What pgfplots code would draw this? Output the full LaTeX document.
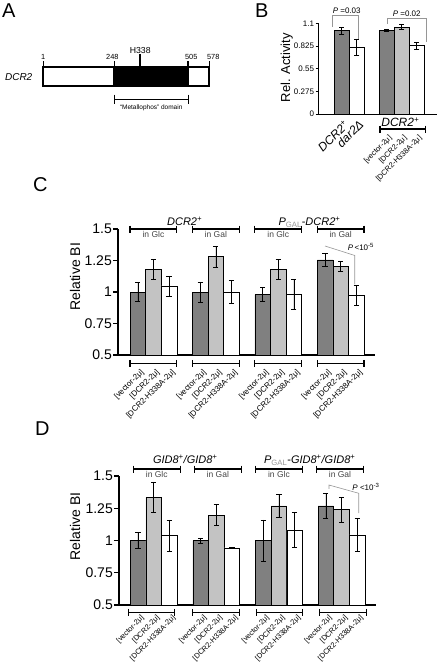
\documentclass[border=0pt]{standalone}
\usepackage{pgfplots}
\pgfplotsset{compat=1.18}
\usepackage{fontspec}
\setmainfont{Liberation Sans}
\definecolor{dgray}{RGB}{128,128,128}
\definecolor{lgray}{RGB}{195,195,195}
\definecolor{agray}{RGB}{150,150,150}
\definecolor{tgray}{RGB}{70,70,70}
\newcommand{\fs}[1]{\fontsize{#1}{#1}\selectfont}
\pgfplotsset{
  mybar/.style={draw=black, line width=0.5pt, bar shift=0pt,
    error bars/y dir=both, error bars/y explicit,
    error bars/error bar style={black, line width=0.6pt},
    error bars/error mark options={rotate=90, black, mark size=2.6pt, line width=0.6pt}},
  bigpanel/.style={scale only axis, anchor=south west, width=257pt,
    ymin=0.5, ymax=1.5, xmin=-1.21, xmax=15.2,
    ybar, bar width=15.6pt, clip mode=individual,
    axis x line*=bottom, axis y line*=left,
    axis line style={line width=1.1pt, black},
    xtick=\empty, ytick={0.5,0.75,1,1.25,1.5},
    tick align=outside, major tick length=5pt,
    tick style={line width=1.1pt, black},
    /pgf/number format/assume math mode=true,
    yticklabel style={font=\fs{14}, inner sep=1pt},
    ylabel={Relative BI}, ylabel style={font=\fs{14}, anchor=center}},
}
% group bracket
\newcommand{\gbr}[4]{\draw[line width=1.4pt] ([yshift=#4]axis cs:#1,#3) -- ([yshift=#4]axis cs:#2,#3);
  \draw[line width=1.2pt] ([yshift=#4+3.5pt]axis cs:#1,#3) -- ([yshift=#4-3.5pt]axis cs:#1,#3);
  \draw[line width=1.2pt] ([yshift=#4+3.5pt]axis cs:#2,#3) -- ([yshift=#4-3.5pt]axis cs:#2,#3);}
\newcommand{\rotlab}[3]{\node[rotate=45, anchor=east, font=\fs{8}, inner sep=0] at ([xshift=5pt,yshift=#3]axis cs:#1,0.5) {#2};}
\newcommand{\rotlabD}[3]{\node[rotate=45, anchor=east, font=\fs{7.4}, inner sep=0] at ([xshift=5pt,yshift=#3]axis cs:#1,0.5) {#2};}
\begin{document}
\begin{tikzpicture}
\useasboundingbox (0pt,0pt) rectangle (438pt,-666pt);
% panel letters
\node[anchor=north west, inner sep=0, font=\fs{20}] at (2pt,-3.5pt) {A};
\node[anchor=north west, inner sep=0, font=\fs{20}] at (255pt,-3.5pt) {B};
\node[anchor=north west, inner sep=0, font=\fs{20}] at (33pt,-177pt) {C};
\node[anchor=north west, inner sep=0, font=\fs{20}] at (35pt,-421.7pt) {D};

% ---------------- Panel A ----------------
\node[font=\fs{10}\itshape] at (18.7pt,-76.7pt) {DCR2};
\begin{axis}[at={(43.3pt,-85.7pt)}, anchor=south west, scale only axis,
  width=166pt, height=19pt, xmin=1, xmax=578, ymin=-0.5, ymax=0.5,
  hide axis, xbar stacked, bar width=19pt, clip=false]
\addplot[fill=white, draw=black, line width=2pt] coordinates {(248,0)};
\addplot[fill=black, draw=black, line width=2pt] coordinates {(257,0)};
\addplot[fill=white, draw=black, line width=2pt] coordinates {(73,0)};
\draw[line width=1.6pt] (axis cs:1,0.5) -- ([yshift=5.5pt]axis cs:1,0.5);
\draw[line width=1.6pt] (axis cs:248,0.5) -- ([yshift=5.5pt]axis cs:248,0.5);
\draw[line width=1.6pt] (axis cs:505,0.5) -- ([yshift=5.5pt]axis cs:505,0.5);
\draw[line width=1.6pt] (axis cs:578,0.5) -- ([yshift=5.5pt]axis cs:578,0.5);
\draw[line width=1.6pt] (axis cs:338,0.5) -- ([yshift=12.4pt]axis cs:338,0.5);
\node[anchor=south, inner sep=0.5pt, font=\fs{7.4}] at ([yshift=6pt]axis cs:1,0.5) {1};
\node[anchor=south, inner sep=0.5pt, font=\fs{7.4}] at ([xshift=-2pt,yshift=6pt]axis cs:248,0.5) {248};
\node[anchor=south, inner sep=0.5pt, font=\fs{7.4}] at ([xshift=3pt,yshift=6pt]axis cs:505,0.5) {505};
\node[anchor=south, inner sep=0.5pt, font=\fs{7.4}] at ([xshift=4pt,yshift=6pt]axis cs:578,0.5) {578};
\node[anchor=south, inner sep=0.5pt, font=\fs{8.7}] at ([yshift=12.6pt]axis cs:338,0.5) {H338};
\draw[line width=1.2pt] ([yshift=-13.6pt]axis cs:248,-0.5) -- ([yshift=-13.6pt]axis cs:505,-0.5);
\draw[line width=1.2pt] ([yshift=-9pt]axis cs:248,-0.5) -- ([yshift=-18pt]axis cs:248,-0.5);
\draw[line width=1.2pt] ([yshift=-9pt]axis cs:505,-0.5) -- ([yshift=-18pt]axis cs:505,-0.5);
\node[font=\fs{6.5}] at ([yshift=-22.6pt]axis cs:376,-0.5) {``Metallophos'' domain};
\end{axis}

% ---------------- Panel B ----------------
\begin{axis}[at={(318.7pt,-114pt)}, anchor=south west, scale only axis,
  width=118pt, height=90.7pt, xmin=-1.54, xmax=6.33, ymin=0, ymax=1.1,
  ybar, bar width=15pt, clip mode=individual,
  axis x line*=bottom, axis y line*=left,
  axis line style={line width=0.8pt, black},
  xtick=\empty, ytick={0,0.275,0.55,0.825,1.1},
  yticklabels={0,0.275,0.55,0.825,1.1},
  tick align=outside, major tick length=3pt, tick style={line width=0.8pt, black},
  yticklabel style={font=\fs{8}, inner sep=1.5pt},
  ylabel={Rel. Activity}, ylabel style={font=\fs{13}, anchor=center, at={(axis description cs:-0.271,0.51)}}]
\addplot[fill=dgray, mybar] coordinates {(0,1.01) +- (0,0.043) (3,1.01) +- (0,0.012)};
\addplot[fill=lgray, mybar] coordinates {(4,1.056) +- (0,0.028)};
\addplot[fill=white, mybar] coordinates {(1,0.81) +- (0,0.10) (5,0.829) +- (0,0.04)};
\draw[agray, line width=0.6pt] (axis cs:-0.63,1.06) -- (axis cs:-0.63,1.20) -- (axis cs:1.1,1.20) -- (axis cs:1.1,0.907);
\node[font=\fs{8}, inner sep=0] at (axis cs:0.33,1.25) {\textit{P} =0.03};
\draw[agray, line width=0.6pt] (axis cs:3.03,1.092) -- (axis cs:3.03,1.16) -- (axis cs:5.66,1.16) -- (axis cs:5.66,0.877);
\node[font=\fs{8}, inner sep=0] at (axis cs:4.33,1.214) {\textit{P} =0.02};
\node[rotate=45, anchor=north east, font=\fs{12}\itshape, inner sep=0] at ([yshift=-5pt]axis cs:0.1,0) {DCR2\textsuperscript{+}};
\node[rotate=45, anchor=north east, font=\fs{12}\itshape, inner sep=0] at ([yshift=-5pt]axis cs:1.1,0) {dar2Δ};
\node[font=\fs{12}\itshape, inner sep=0] at ([yshift=-8pt]axis cs:3.9,0) {DCR2\textsuperscript{+}};
\draw[line width=1.3pt] ([yshift=-15pt]axis cs:2.55,0) -- ([yshift=-15pt]axis cs:5.6,0);
\draw[line width=1.1pt] ([yshift=-11.5pt]axis cs:2.55,0) -- ([yshift=-18.5pt]axis cs:2.55,0);
\draw[line width=1.1pt] ([yshift=-11.5pt]axis cs:5.6,0) -- ([yshift=-18.5pt]axis cs:5.6,0);
\node[rotate=45, anchor=east, font=\fs{7.5}, inner sep=0] at ([xshift=4pt,yshift=-23pt]axis cs:3,0) {[vector-2μ]};
\node[rotate=45, anchor=east, font=\fs{7.5}, inner sep=0] at ([xshift=4pt,yshift=-23pt]axis cs:4,0) {[DCR2-2μ]};
\node[rotate=45, anchor=east, font=\fs{7.5}, inner sep=0] at ([xshift=4pt,yshift=-23pt]axis cs:5,0) {[DCR2-H338A-2μ]};
\end{axis}

% ---------------- Panel C ----------------
\begin{axis}[bigpanel, at={(118pt,-355pt)}, height=126pt, xmin=-1.27,
  ylabel style={at={(axis description cs:-0.167,0.62)}}]
\addplot[fill=dgray, mybar] coordinates {(0,1.0) +- (0,0.075) (4,1.0) +- (0,0.08) (8,0.98) +- (0,0.055) (12,1.254) +- (0,0.05)};
\addplot[fill=lgray, mybar] coordinates {(1,1.18) +- (0,0.077) (5,1.28) +- (0,0.08) (9,1.18) +- (0,0.08) (13,1.204) +- (0,0.04)};
\addplot[fill=white, mybar] coordinates {(2,1.048) +- (0,0.08) (6,1.0) +- (0,0.09) (10,0.98) +- (0,0.12) (14,0.974) +- (0,0.08)};
\gbr{-0.5}{2.5}{1.5}{0pt}
\gbr{3.5}{6.5}{1.5}{0pt}
\gbr{7.5}{10.5}{1.5}{0pt}
\gbr{11.5}{14.5}{1.5}{0pt}
\node[anchor=north, inner sep=0, font=\fs{8.5}, text=tgray] at ([yshift=-2.5pt]axis cs:1,1.5) {in Glc};
\node[anchor=north, inner sep=0, font=\fs{8.5}, text=tgray] at ([yshift=-2.5pt]axis cs:5,1.5) {in Gal};
\node[anchor=north, inner sep=0, font=\fs{8.5}, text=tgray] at ([yshift=-2.5pt]axis cs:9,1.5) {in Glc};
\node[anchor=north, inner sep=0, font=\fs{8.5}, text=tgray] at ([yshift=-2.5pt]axis cs:13,1.5) {in Gal};
\node[anchor=base, inner sep=0, font=\fs{11}\itshape] at ([yshift=3.5pt]axis cs:3,1.5) {DCR2\textsuperscript{+}};
\node[anchor=base, inner sep=0, font=\fs{11}] at ([yshift=3.5pt]axis cs:11,1.5) {\textit{P}\textsubscript{\textcolor{agray}{GAL}}-\textit{DCR2}\textsuperscript{+}};
\draw[agray, line width=0.6pt] (axis cs:12,1.365) -- (axis cs:13.9,1.29) -- (axis cs:13.9,1.06);
\node[font=\fs{8}, inner sep=0] at (axis cs:14.3,1.36) {\textit{P}\,<10\textsuperscript{-5}};
\gbr{-0.5}{2.5}{0.5}{-8.3pt}
\gbr{3.5}{6.5}{0.5}{-8.3pt}
\gbr{7.5}{10.5}{0.5}{-8.3pt}
\gbr{11.5}{14.5}{0.5}{-8.3pt}
\rotlab{0}{[vector-2μ]}{-16pt}\rotlab{1}{[DCR2-2μ]}{-16pt}\rotlab{2}{[DCR2-H338A-2μ]}{-16pt}
\rotlab{4}{[vector-2μ]}{-16pt}\rotlab{5}{[DCR2-2μ]}{-16pt}\rotlab{6}{[DCR2-H338A-2μ]}{-16pt}
\rotlab{8}{[vector-2μ]}{-16pt}\rotlab{9}{[DCR2-2μ]}{-16pt}\rotlab{10}{[DCR2-H338A-2μ]}{-16pt}
\rotlab{12}{[vector-2μ]}{-16pt}\rotlab{13}{[DCR2-2μ]}{-16pt}\rotlab{14}{[DCR2-H338A-2μ]}{-16pt}
\end{axis}

% ---------------- Panel D ----------------
\begin{axis}[bigpanel, at={(119pt,-605pt)}, height=129pt, xmin=-1.21,
  ylabel style={at={(axis description cs:-0.171,0.61)}}]
\addplot[fill=dgray, mybar] coordinates {(0,1.0) +- (0,0.06) (4,1.0) +- (0,0.02) (8,1.0) +- (0,0.16) (12,1.268) +- (0,0.095)};
\addplot[fill=lgray, mybar] coordinates {(1,1.335) +- (0,0.12) (5,1.197) +- (0,0.08) (9,1.268) +- (0,0.09) (13,1.24) +- (0,0.095)};
\addplot[fill=white, mybar] coordinates {(2,1.04) +- (0,0.12) (6,0.943) +- (0,0.005) (10,1.08) +- (0,0.135) (14,1.044) +- (0,0.125)};
\gbr{-0.3}{2.7}{1.5}{7pt}
\gbr{3.6}{6.6}{1.5}{7pt}
\gbr{7.5}{10.5}{1.5}{7pt}
\gbr{11.4}{14.4}{1.5}{7pt}
\node[anchor=north, inner sep=0, font=\fs{8.5}, text=tgray] at ([yshift=4.5pt]axis cs:1.2,1.5) {in Glc};
\node[anchor=north, inner sep=0, font=\fs{8.5}, text=tgray] at ([yshift=4.5pt]axis cs:5.1,1.5) {in Gal};
\node[anchor=north, inner sep=0, font=\fs{8.5}, text=tgray] at ([yshift=4.5pt]axis cs:9,1.5) {in Glc};
\node[anchor=north, inner sep=0, font=\fs{8.5}, text=tgray] at ([yshift=4.5pt]axis cs:12.9,1.5) {in Gal};
\node[anchor=base, inner sep=0, font=\fs{11}\itshape] at ([yshift=12.5pt]axis cs:3.02,1.5) {GID8\textsuperscript{+}/GID8\textsuperscript{+}};
\node[anchor=base, inner sep=0, font=\fs{11}] at ([yshift=12.5pt]axis cs:10.97,1.5) {\textit{P}\textsubscript{\textcolor{agray}{GAL}}-\textit{GID8}\textsuperscript{+}\textit{/GID8}\textsuperscript{+}};
\draw[agray, line width=0.6pt] (axis cs:12.2,1.40) -- (axis cs:12.2,1.43) -- (axis cs:14.1,1.366) -- (axis cs:14.1,1.213);
\node[font=\fs{8}, inner sep=0] at (axis cs:14.56,1.415) {\textit{P} <10\textsuperscript{-3}};
\gbr{-0.6}{2.35}{0.5}{-7.3pt}
\gbr{3.5}{6.5}{0.5}{-7.3pt}
\gbr{7.55}{10.5}{0.5}{-7.3pt}
\gbr{11.6}{14.6}{0.5}{-7.3pt}
\rotlabD{0}{[vector-2μ]}{-12pt}\rotlabD{1}{[DCR2-2μ]}{-12pt}\rotlabD{2}{[DCR2-H338A-2μ]}{-12pt}
\rotlabD{4}{[vector-2μ]}{-12pt}\rotlabD{5}{[DCR2-2μ]}{-12pt}\rotlabD{6}{[DCR2-H338A-2μ]}{-12pt}
\rotlabD{8}{[vector-2μ]}{-12pt}\rotlabD{9}{[DCR2-2μ]}{-12pt}\rotlabD{10}{[DCR2-H338A-2μ]}{-12pt}
\rotlabD{12}{[vector-2μ]}{-12pt}\rotlabD{13}{[DCR2-2μ]}{-12pt}\rotlabD{14}{[DCR2-H338A-2μ]}{-12pt}
\end{axis}
\end{tikzpicture}
\end{document}
